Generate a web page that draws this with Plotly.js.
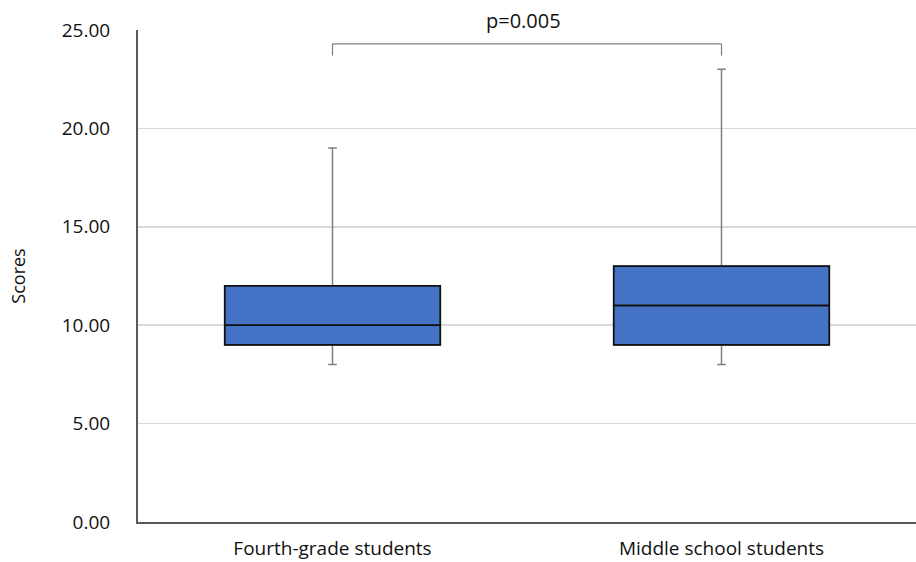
<!DOCTYPE html>
<html>
<head>
<meta charset="utf-8">
<script src="https://cdn.plot.ly/plotly-3.0.1.min.js"></script>
<style>html,body{margin:0;padding:0;background:#fff;}#chart{width:916px;height:562px;}</style>
</head>
<body>
<div id="chart"></div>
<script>
// Data
const categories = ["Fourth-grade students", "Middle school students"];
const minValues = [8, 8];
const q1Values = [9, 9];
const medianValues = [10, 11];
const q3Values = [12, 13];
const maxValues = [19, 23];
const pLabel = "p=0.005";
const bracketY = 24.3;
const bracketDrop = 0.6;
const yTickVals = [0, 5, 10, 15, 20, 25];
const yTickText = ["0.00", "5.00", "10.00", "15.00", "20.00", "25.00"];

const FONT = "Open Sans, Noto Sans, sans-serif";

// whiskers (gray)
const whiskerTrace = {
  type: "box",
  x: categories,
  q1: q1Values, median: medianValues, q3: q3Values,
  lowerfence: minValues, upperfence: maxValues,
  width: 0.554,
  whiskerwidth: 0.04,
  fillcolor: "#4472C4",
  line: {color: "#7f7f7f", width: 1.5},
  boxpoints: false,
  hoverinfo: "skip",
  showlegend: false
};
// box body (black outline)
const boxTrace = {
  type: "box",
  x: categories,
  q1: q1Values, median: medianValues, q3: q3Values,
  lowerfence: q1Values, upperfence: q3Values,
  width: 0.554,
  whiskerwidth: 0,
  fillcolor: "#4472C4",
  line: {color: "#111111", width: 1.8},
  boxpoints: false,
  showlegend: false
};

const bracketColor = "#7f7f7f";
const layout = {
  width: 916, height: 562,
  margin: {l: 138, r: 0, t: 30, b: 40},
  paper_bgcolor: "#fff", plot_bgcolor: "#fff",
  font: {family: FONT, color: "#111", size: 16},
  boxmode: "overlay",
  showlegend: false,
  xaxis: {
    type: "category",
    range: [-0.5, 1.5],
    showline: true, linecolor: "#595959", linewidth: 2,
    showgrid: false, zeroline: false,
    ticks: "outside", ticklen: 8, tickcolor: "rgba(0,0,0,0)",
    tickfont: {family: FONT, size: 19, color: "#111"}
  },
  yaxis: {
    range: [0, 25],
    tickvals: yTickVals, ticktext: yTickText,
    showline: true, linecolor: "#595959", linewidth: 2,
    showgrid: true, gridcolor: "#d9d9d9", gridwidth: 1.5,
    zeroline: false,
    ticks: "outside", ticklen: 22, tickcolor: "rgba(0,0,0,0)",
    tickfont: {family: FONT, size: 19, color: "#111"},
    title: {text: "Scores", font: {family: FONT, size: 18, color: "#111"}, standoff: 31}
  },
  shapes: [
    {type: "line", xref: "x", yref: "y", x0: 0, x1: 1, y0: bracketY, y1: bracketY, line: {color: bracketColor, width: 1.2}},
    {type: "line", xref: "x", yref: "y", x0: 0, x1: 0, y0: bracketY, y1: bracketY - bracketDrop, line: {color: bracketColor, width: 1.2}},
    {type: "line", xref: "x", yref: "y", x0: 1, x1: 1, y0: bracketY, y1: bracketY - bracketDrop, line: {color: bracketColor, width: 1.2}}
  ],
  annotations: [
    {x: 0.49, y: 1.02, xref: "x", yref: "paper", text: pLabel, showarrow: false,
     font: {family: FONT, size: 20, color: "#111"}, yanchor: "middle", xanchor: "center"}
  ]
};

Plotly.newPlot("chart", [whiskerTrace, boxTrace], layout, {displayModeBar: false, staticPlot: true});
</script>
</body>
</html>
